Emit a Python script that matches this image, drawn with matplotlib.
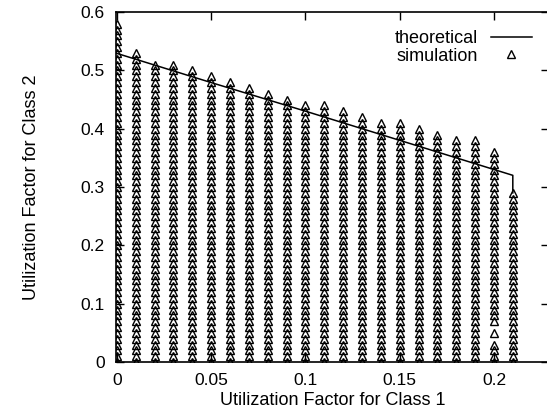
import numpy as np
import matplotlib
matplotlib.use('Agg')
import matplotlib.pyplot as plt

# simulation: one column of feasible points per class-1 load, stacked every 0.01
col_x = [0.00, 0.01, 0.02, 0.03, 0.04, 0.05, 0.06, 0.07, 0.08, 0.09, 0.10,
         0.11, 0.12, 0.13, 0.14, 0.15, 0.16, 0.17, 0.18, 0.19, 0.20, 0.21]
col_top = [0.58, 0.53, 0.51, 0.51, 0.50, 0.49, 0.48, 0.47, 0.46, 0.45, 0.44,
           0.44, 0.43, 0.42, 0.41, 0.41, 0.40, 0.39, 0.38, 0.38, 0.36, 0.29]
# points that are absent in the x=0.2 column
missing = [(0.20, 0.04), (0.20, 0.06)]

# theoretical boundary
theo_x = [0.0, 0.05, 0.10, 0.15, 0.20, 0.21, 0.21]
theo_y = [0.529, 0.479, 0.430, 0.380, 0.330, 0.320, 0.290]

sim_x = []
sim_y = []
for cx, top in zip(col_x, col_top):
    n = int(round(top / 0.01))
    for k in range(n + 1):
        yy = round(k * 0.01, 2)
        if (cx, yy) in missing:
            continue
        sim_x.append(cx)
        sim_y.append(yy)

plt.rcParams['font.family'] = ['Liberation Sans', 'DejaVu Sans']

fig = plt.figure(figsize=(5.47, 4.13), dpi=100)
ax = fig.add_axes([116 / 547, 1 - 362 / 413, (549 - 116) / 547, 350 / 413])

ax.plot(theo_x, theo_y, '-', color='black', lw=1.1, label='theoretical')
ax.plot(sim_x, sim_y, '^', ms=6.3, mfc='none', mec='black', mew=1.0,
        ls='none', label='simulation')

ax.set_xlim(-0.0005, 0.2292)
ax.set_ylim(0, 0.6)
ax.set_xticks([0, 0.05, 0.1, 0.15, 0.2])
ax.set_xticklabels(['0', '0.05', '0.1', '0.15', '0.2'])
ax.set_yticks([0, 0.1, 0.2, 0.3, 0.4, 0.5, 0.6])
ax.set_yticklabels(['0', '0.1', '0.2', '0.3', '0.4', '0.5', '0.6'])
ax.tick_params(direction='in', length=6, width=1, top=True, right=True,
               labelsize=12.5, pad=8)
for s in ax.spines.values():
    s.set_linewidth(1.2)

ax.set_xlabel('Utilization Factor for Class 1', fontsize=13, labelpad=3)
ax.set_ylabel('Utilization Factor for Class 2', fontsize=13, labelpad=29)

ax.legend(loc='upper right', bbox_to_anchor=(0.99, 0.985), frameon=False,
          markerfirst=False, fontsize=13, handlelength=2.3, handletextpad=0.7,
          labelspacing=0.05, borderpad=0.2)

fig.savefig('out.png', dpi=100)
